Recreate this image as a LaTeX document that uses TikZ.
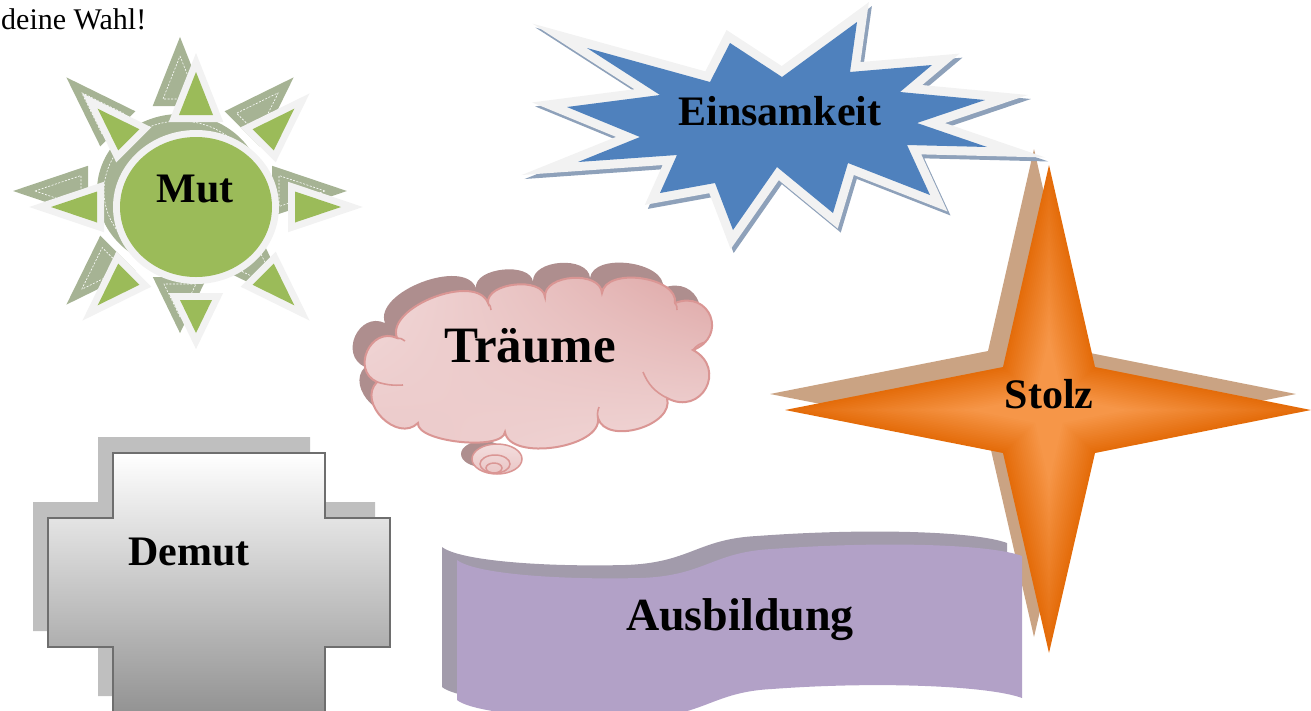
\documentclass[tikz,border=0pt]{standalone}
\usepackage{fontspec}
\setmainfont{Liberation Serif}
\usetikzlibrary{calc,shadings}
\definecolor{sungreen}{HTML}{9BBB59}
\definecolor{sunwhite}{HTML}{F2F2F2}
\definecolor{sunshadow}{HTML}{A6B394}
\definecolor{expblue}{HTML}{4F81BD}
\definecolor{expshadow}{HTML}{8EA1BA}
\definecolor{stardark}{HTML}{E46C0A}
\definecolor{starlight}{HTML}{F69648}
\definecolor{starshadow}{HTML}{CAA383}
\definecolor{cloudline}{HTML}{DA9694}
\definecolor{cloudshadow}{HTML}{AE8E8E}
\definecolor{clouddark}{HTML}{DCA1A0}
\definecolor{cloudlight}{HTML}{F3DDDD}
\definecolor{cloudmid}{HTML}{EAC6C6}
\definecolor{wavefill}{HTML}{B2A1C7}
\definecolor{waveshadow}{HTML}{A29BAB}
\definecolor{crossline}{HTML}{6E6E6E}
\definecolor{crossshadow}{HTML}{BFBFBF}
\definecolor{crossbottom}{HTML}{939393}

\newcommand\sunparts[1]{%
  \foreach \a/\ap/\bs/\hw in {270/135/92/17, 90/126/93/16, 0/145/99/15.5, 180/145/99/15.5, 45/139/95/15, 135/139/95/15, 225/139/95/15, 315/139/95/15} {
    \path[#1] (\a:\ap) -- ($(\a:\bs)+(\a+90:\hw)$) -- ($(\a:\bs)+(\a-90:\hw)$) -- cycle;
  }
  \path[#1] (0,0) ellipse [x radius=76, y radius=70];
}
\newcommand\exppath{(587,48) -- (710,82) -- (730,43) -- (782,77) -- (857,22) -- (850,72) -- (932,65) -- (900,92) -- (985,100) -- (917,123) -- (987,147) -- (907,145) -- (930,195) -- (848,163) -- (833,213) -- (777,167) -- (733,230) -- (715,183) -- (660,193) -- (677,155) -- (578,162) -- (640,137) -- (567,107) -- (660,95) -- cycle}
\newcommand\starpath{(1049,165) -- (1095,367) -- (1311,410) -- (1095,453) -- (1049,653) -- (1003,453) -- (785,410) -- (1003,367) -- cycle}
\newcommand\cb[3]{.. controls ($(#1)!#3!90:(#2)$) and ($(#2)!#3!-90:(#1)$) .. (#2)}
\newcommand\cloudpath{(377,382) \cb{377,382}{397,338}{0.6} \cb{397,338}{488,303}{0.34} \cb{488,303}{545,297}{0.36} \cb{545,297}{602,293}{0.4} \cb{602,293}{675,303}{0.36} \cb{675,303}{693,350}{0.75} \cb{693,350}{667,398}{0.72} \cb{667,398}{598,418}{0.4} \cb{598,418}{505,432}{0.32} \cb{505,432}{418,423}{0.22} \cb{418,423}{377,382}{0.5} -- cycle}
\newcommand\crosspath{(113,453) -- (325,453) -- (325,518) -- (390,518) -- (390,647) -- (325,647) -- (325,712) -- (113,712) -- (113,647) -- (48,647) -- (48,518) -- (113,518) -- cycle}
\newcommand\wavepath{(457,560) .. controls (475,574) and (560,580) .. (640,578) .. controls (705,576) and (712,552) .. (772,549) .. controls (880,541) and (990,544) .. (1022,556) -- (1022,698) .. controls (990,686) and (880,681) .. (772,689) .. controls (712,692) and (705,716) .. (640,718) .. controls (560,720) and (475,714) .. (457,700) -- cycle}

\begin{document}
\begin{tikzpicture}[x=1pt,y=-1pt,line join=miter,
  lbl/.style={font=\bfseries\fontsize{42}{50}\selectfont, inner sep=0pt, anchor=base},
  cusp/.style={draw=cloudline, line width=1.6}]
\useasboundingbox (0,0) rectangle (1311,710);

% heading text
\node[font=\fontsize{30}{36}\selectfont, anchor=base west, inner sep=0pt] (wahl) at (1,29) {deine Wahl!};

% ---- Mut (sun)
\begin{scope}[shift={(180,191)}]
  \sunparts{fill=sunshadow, draw=sunshadow, line width=14}
  \sunparts{draw=white, line width=0.6, dash pattern=on 2pt off 1.5pt}
\end{scope}
\begin{scope}[shift={(196,207)}]
  \sunparts{draw=sunwhite, line width=14}
  \sunparts{fill=sungreen}
\end{scope}
\node[lbl] (mut) at (195,202) {Mut};

% ---- Stolz (4-point star, path gradient by nested copies)
\fill[starshadow, shift={(-15,-16)}] \starpath;
\foreach \i in {0,...,29} {
  \pgfmathsetmacro\s{1-\i/30}
  \pgfmathsetmacro\p{min(100,100*(\i/30)/0.7)}
  \fill[starlight!\p!stardark, scale around={\s:(1049,410)}] \starpath;
}
\node[lbl] (stolz) at (1049,408) {Stolz};

% ---- Einsamkeit (explosion)
\draw[expshadow, line width=18, shift={(3,4)}] \exppath;
\draw[sunwhite, line width=18] \exppath;
\fill[expblue] \exppath;
\node[lbl] (einsam) at (780,125) {Einsamkeit};

% ---- Traeume (cloud)
\fill[cloudshadow, shift={(-12,-15)}] \cloudpath;
\fill[cloudshadow] (483,454) ellipse [x radius=22, y radius=13];
\shade[upper right=clouddark, lower left=cloudmid, upper left=cloudlight, lower right=cloudlight] \cloudpath;
\draw[cloudline, line width=2] \cloudpath;
\draw[cusp] (377,382) to[bend right=10] (403,385);
\draw[cusp] (397,338) to[bend left=20] (405,341);
\draw[cusp] (488,303) to[bend left=20] (491,310);
\draw[cusp] (675,303) to[bend left=20] (677,310);
\draw[cusp] (693,350) to[bend left=20] (706,342);
\draw[cusp] (667,398) to[bend left=20] (643,372);
\draw[cusp] (598,418) to[bend left=15] (599,407);
\shade[top color=cloudlight, bottom color=cloudmid, draw=cloudline, line width=1.5] (497,459) ellipse [x radius=25, y radius=15];
\draw[cloudline, line width=1.5] (495,464) ellipse [x radius=15, y radius=9];
\draw[cloudline, line width=1.5] (494,468) ellipse [x radius=8, y radius=5];
\node[lbl, font=\bfseries\fontsize{51}{60}\selectfont] (traeume) at (530,362) {Träume};

% ---- Demut (cross)
\fill[crossshadow, shift={(-15,-16)}] \crosspath;
\shade[top color=white, bottom color=crossbottom] \crosspath;
\draw[crossline, line width=2] \crosspath;
\node[lbl] (demut) at (189,565) {Demut};

% ---- Ausbildung (wave)
\fill[waveshadow, shift={(-15,-13)}] \wavepath;
\fill[wavefill] \wavepath;
\node[lbl, font=\bfseries\fontsize{46}{55}\selectfont] (ausbildung) at (740,630) {Ausbildung};
\end{tikzpicture}
\end{document}
